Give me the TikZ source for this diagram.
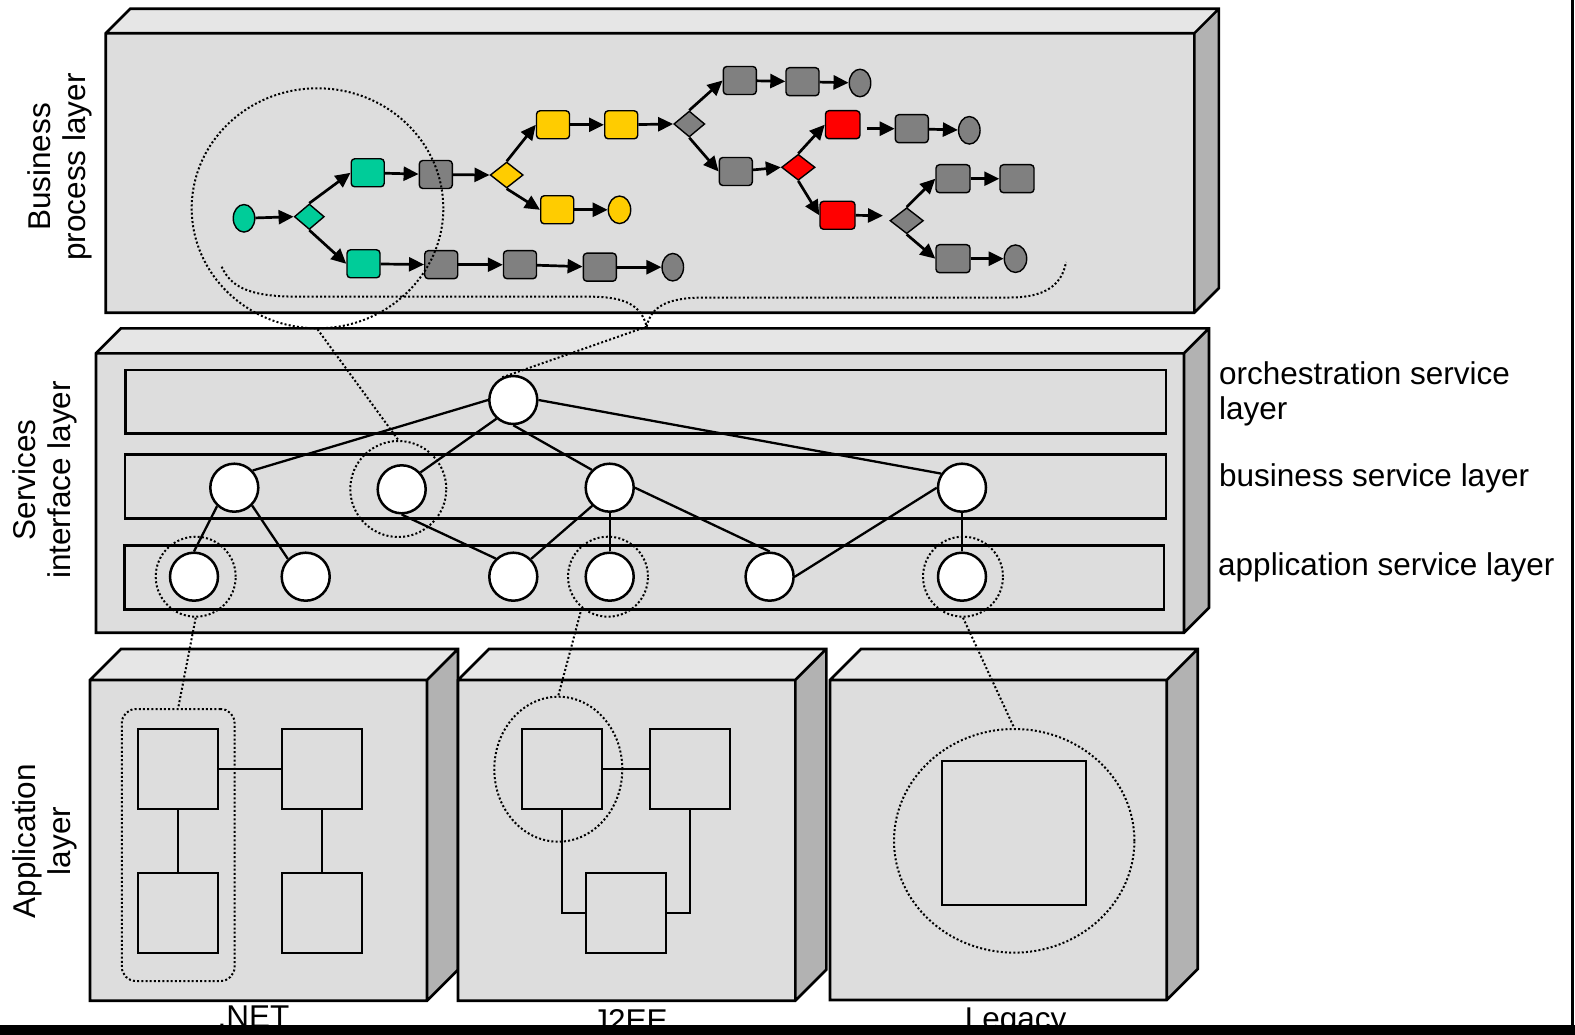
\documentclass[tikz,border=0pt]{standalone}
\usepackage{fontspec}
\setmainfont{Liberation Sans}
\usetikzlibrary{arrows.meta,shapes.geometric,calc}
\definecolor{frontc}{HTML}{DDDDDD}
\definecolor{topc}{HTML}{E6E6E6}
\definecolor{sidec}{HTML}{B2B2B2}
\definecolor{grn}{HTML}{00CC99}
\definecolor{ylw}{HTML}{FFCC00}
\definecolor{rd}{HTML}{FF0000}
\definecolor{gry}{HTML}{808080}
\newcommand{\slabbox}[5]{%
  \fill[topc] (#1,#2) -- (#1+#5,#2-#5) -- (#3+#5,#2-#5) -- (#3,#2) -- cycle;
  \fill[sidec] (#3,#2) -- (#3+#5,#2-#5) -- (#3+#5,#4-#5) -- (#3,#4) -- cycle;
  \fill[frontc] (#1,#2) rectangle (#3,#4);
  \draw[boxline] (#1,#2) -- (#1+#5,#2-#5) -- (#3+#5,#2-#5) -- (#3+#5,#4-#5) -- (#3,#4) -- (#1,#4) -- cycle
     (#1,#2) -- (#3,#2) -- (#3+#5,#2-#5) (#3,#2) -- (#3,#4);
}
\tikzset{
 boxline/.style={line width=2.6pt, line join=miter},
 strip/.style={draw, line width=2.5pt},
 svc/.style={circle, draw, fill=white, line width=2.5pt, minimum size=48pt, inner sep=0},
 svcline/.style={line width=2.3pt},
 dotline/.style={line width=2pt, dash pattern=on 2pt off 2.2pt},
 task/.style={rectangle, rounded corners=3.5pt, draw, line width=1.4pt, minimum width=33pt, minimum height=28pt, inner sep=0},
 gate/.style={diamond, draw, line width=1.4pt, minimum width=32pt, minimum height=26pt, inner sep=0},
 evt/.style={ellipse, draw, line width=1.4pt, minimum width=21.5pt, minimum height=27.5pt, inner sep=0},
 flow/.style={line width=2.7pt, -{Triangle[length=15pt,width=14pt]}},
 appsq/.style={rectangle, draw, line width=2.2pt, minimum size=80pt, inner sep=0},
 appline/.style={line width=2pt},
 lbl/.style={font=\fontsize{31.5}{35}\selectfont, inner sep=0},
}
\begin{document}
\begin{tikzpicture}[x=1pt,y=-1pt]
\useasboundingbox (0,0) rectangle (1575,1035);
\fill[white] (0,0) rectangle (1575,1035);
% 3D layer boxes
\slabbox{105.7}{33.3}{1194.3}{312.7}{24.5}
\slabbox{96}{353.3}{1184}{632.7}{25}
\slabbox{90}{680}{427}{1000.7}{31}
\slabbox{458}{680}{795.3}{1000.7}{31}
\slabbox{830}{680}{1166.7}{1000}{31}

% ---------- Business process layer ----------
\node[evt, fill=grn] (p0) at (244,218.3) {};
\node[gate, fill=grn, minimum width=30pt, minimum height=25.5pt] (g1) at (309.3,216.7) {};
\node[task, fill=grn] (t1) at (367.7,172.8) {};
\node[task, fill=grn] (t2) at (363.5,263.8) {};
\node[task, fill=gry] (t3) at (435.8,174.5) {};
\node[gate, fill=ylw, minimum width=33pt] (g2) at (506.7,175) {};
\node[task, fill=ylw] (t4) at (553,124.8) {};
\node[task, fill=ylw] (t5) at (621.2,124.8) {};
\node[task, fill=ylw] (t6) at (557.2,209.8) {};
\node[evt, fill=ylw, minimum width=22.4pt] (e1) at (619.5,209.8) {};
\node[task, fill=gry] (t7) at (441.2,264.7) {};
\node[task, fill=gry] (t8) at (520,264.7) {};
\node[task, fill=gry] (t9) at (599.8,267.2) {};
\node[evt, fill=gry] (e2) at (672.8,267.2) {};
\node[gate, fill=gry, minimum width=31pt] (g3) at (689.3,124) {};
\node[task, fill=gry] (t10) at (739.8,80.5) {};
\node[task, fill=gry] (t11) at (802.5,81.7) {};
\node[evt, fill=gry] (e3) at (860,83) {};
\node[task, fill=gry] (t12) at (735.8,171.5) {};
\node[gate, fill=rd, minimum width=33.5pt] (g4) at (798.3,167.3) {};
\node[task, fill=rd, minimum width=34.5pt] (t13) at (842.7,124.7) {};
\node[task, fill=gry] (t14) at (911.8,128.7) {};
\node[evt, fill=gry] (e4) at (969.3,130.3) {};
\node[task, fill=rd, minimum width=35pt] (t15) at (837.5,215.3) {};
\coordinate (x15) at (883,215.7);
\node[gate, fill=gry, minimum width=33.4pt] (g5) at (906.7,220.7) {};
\node[task, fill=gry, minimum width=34pt] (t16) at (953,178.7) {};
\node[task, fill=gry, minimum width=34pt] (t17) at (1017,178.7) {};
\node[task, fill=gry, minimum width=34pt] (t18) at (953,258.7) {};
\node[evt, fill=gry, minimum width=22.4pt] (e5) at (1015.5,258.7) {};

\draw[flow] (p0) -- (g1.west);
\draw[flow] (g1.north) -- (t1.west);
\draw[flow] (g1.south) -- (t2.west);
\draw[flow] (t1) -- (t3);
\draw[flow] (t3) -- (g2.west);
\draw[flow] (g2.north) -- (t4.west);
\draw[flow] (g2.south) -- (t6.west);
\draw[flow] (t4) -- (t5);
\draw[flow] (t5) -- (g3.west);
\draw[flow] (t6) -- (e1);
\draw[flow] (t2) -- (t7);
\draw[flow] (t7) -- (t8);
\draw[flow] (t8) -- (t9);
\draw[flow] (t9) -- (e2);
\draw[flow] (g3.north) -- (t10.west);
\draw[flow] (g3.south) -- (t12.west);
\draw[flow] (t10) -- (t11);
\draw[flow] (t11) -- (e3);
\draw[flow] (t12) -- (g4.west);
\draw[flow] (g4.north) -- (t13.west);
\draw[flow] (g4.south) -- (t15.west);
\draw[flow] ($(t13.east|-t14.west)+(6,0)$) -- (t14.west);
\draw[flow] (t14) -- (e4);
\draw[flow] (t15.east) -- (x15);
\draw[flow] (g5.north) -- (t16.west);
\draw[flow] (g5.south) -- (t18.west);
\draw[flow] (t16) -- (t17);
\draw[flow] (t18) -- (e5);

% big dotted circle and brace
\node[ellipse, draw, dotline, minimum width=251.6pt, minimum height=240pt, inner sep=0] (bigc) at (317.5,208.3) {};
\coordinate (btip) at (646.7,326.7);
\draw[dotline] (221.7,266.7) .. controls (232,290) and (255,296.7) .. (300,296.7)
   -- (590,296.7) .. controls (625,296.7) and (641,305) .. (btip)
   .. controls (651,306) and (668,297.5) .. (705,297.5)
   -- (1010,297.5) .. controls (1045,297.5) and (1062,285) .. (1066,262);

% ---------- Services interface layer ----------
\draw[strip] (125.7,370) rectangle (1166,433.7);
\draw[strip] (125,454.7) rectangle (1166,518.7);
\draw[strip] (124.3,545.7) rectangle (1164,609.7);

\node[circle, draw, dotline, minimum size=80pt, inner sep=0] (da1) at (195.7,576.7) {};
\node[circle, draw, dotline, minimum size=96pt, inner sep=0] (db2) at (398.3,489) {};
\node[circle, draw, dotline, minimum size=80pt, inner sep=0] (da4) at (608,576.7) {};
\node[circle, draw, dotline, minimum size=80pt, inner sep=0] (da6) at (963,576.7) {};

\node[svc] (orch) at (513.3,400) {};
\node[svc] (b1) at (234.3,487.7) {};
\node[svc] (b2) at (401.7,489.3) {};
\node[svc] (b3) at (609.7,487.7) {};
\node[svc] (b4) at (962,487.7) {};
\node[svc] (a1) at (194,576.7) {};
\node[svc] (a2) at (305.7,576.7) {};
\node[svc] (a3) at (513.3,576.7) {};
\node[svc] (a4) at (609.7,576.7) {};
\node[svc] (a5) at (769.6,576.7) {};
\node[svc] (a6) at (962,576.7) {};

\draw[svcline] (orch.west) -- (b1.43);
\draw[svcline] (orch.228) -- (b2.42);
\draw[svcline] (orch.south) -- (b3.135);
\draw[svcline] (orch.east) -- (b4.146);
\draw[svcline] (b1.-133) -- (a1.north);
\draw[svcline] (b1.-45) -- (a2.135);
\draw[svcline] (b2.south) -- (a3.134);
\draw[svcline] (b3.-134) -- (a3.45);
\draw[svcline] (b3.south) -- (a4.north);
\draw[svcline] (b3.east) -- (a5.north);
\draw[svcline] (b4.west) -- (a5.east);
\draw[svcline] (b4.south) -- (a6.north);

% ---------- Application layer ----------
\node[appsq] (n1) at (177.9,769) {};
\node[appsq] (n2) at (321.9,769) {};
\node[appsq] (n3) at (177.9,913) {};
\node[appsq] (n4) at (321.9,913) {};
\draw[appline] (n1.east) -- (n2.west);
\draw[appline] (n1.south) -- (n3.north);
\draw[appline] (n2.south) -- (n4.north);
\node[draw, dotline, rounded corners=14pt, minimum width=112.7pt, minimum height=272pt, inner sep=0] (netsel) at (178.2,845) {};

\node[appsq] (j1) at (562,769) {};
\node[appsq] (j2) at (690,769) {};
\node[appsq] (j3) at (626,913) {};
\draw[appline] (j1.east) -- (j2.west);
\draw[appline] (j1.south) |- (j3.west);
\draw[appline] (j2.south) |- (j3.east);
\node[ellipse, draw, dotline, minimum width=128pt, minimum height=145pt, inner sep=0] (jsel) at (558.3,769.2) {};

\node[appsq, minimum width=144.3pt, minimum height=144pt] (l1) at (1013.9,833) {};
\node[ellipse, draw, dotline, minimum width=240.4pt, minimum height=223.6pt, inner sep=0] (legsel) at (1014.2,840.8) {};

% ---------- dotted connectors between layers ----------
\draw[dotline] (bigc.south) -- (db2.north);
\draw[dotline] (btip) -- (orch.116);
\draw[dotline] (da1.south) -- (netsel.north);
\draw[dotline] (da4.-130) -- (jsel.north);
\draw[dotline] (da6.south) -- (legsel.north);

% ---------- labels ----------
\node[lbl, rotate=90, align=center] (lbp) at (60,167) {Business\\process layer};
\node[lbl, rotate=90, align=center] (lsi) at (45,480) {Services\\interface layer};
\node[lbl, rotate=90, align=center] (lal) at (45,841) {Application\\layer};
\node[lbl, anchor=west, align=left] (lor) at (1219,394) {orchestration service\\layer};
\node[lbl, anchor=west] (lbs) at (1219,478) {business service layer};
\node[lbl, anchor=west] (las) at (1218,567.5) {application service layer};
\node[lbl, anchor=base] (lnet) at (253.6,1027) {.NET};
\node[lbl, anchor=base] (ljee) at (630,1031) {J2EE};
\node[lbl, anchor=base] (lleg) at (1015.6,1029) {Legacy};

% frame bits
\fill[black] (0,1024.5) rectangle (1575,1035);
\fill[black] (1571,0) rectangle (1574,1035);
\end{tikzpicture}
\end{document}
